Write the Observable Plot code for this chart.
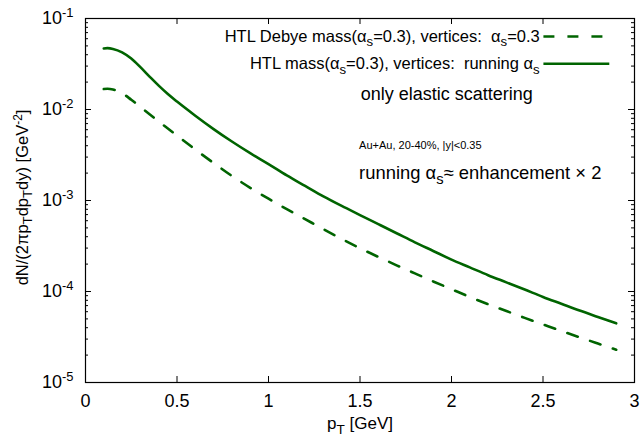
<!DOCTYPE html>
<html>
<head>
<meta charset="utf-8">
<script src="https://cdn.jsdelivr.net/npm/d3@7"></script>
<script src="https://cdn.jsdelivr.net/npm/@observablehq/plot@0.6"></script>
<style>
  html, body { margin: 0; padding: 0; background: #fff; }
  svg text { white-space: pre; }
</style>
</head>
<body>
<div id="chart"></div>
<script>
// ---- data ----
const pT = [0.10, 0.12, 0.15, 0.20, 0.25, 0.30, 0.35, 0.40, 0.45, 0.50,
            0.60, 0.70, 0.80, 0.90, 1.00, 1.10, 1.20, 1.30, 1.40, 1.50,
            1.60, 1.70, 1.80, 1.90, 2.00, 2.10, 2.20, 2.30, 2.40, 2.50,
            2.60, 2.70, 2.80, 2.90];
// HTL Debye mass(alpha_s=0.3), vertices alpha_s=0.3  (dashed)
const dashedHTL = [0.01679, 0.01690, 0.01660, 0.01514, 0.01279, 0.01067, 0.008872, 0.007396, 0.006180, 0.005176,
                   0.003631, 0.002582, 0.001862, 0.001380, 0.001047, 0.000804, 0.000624, 0.000484, 0.000378, 0.000299,
                   0.000240, 0.000194, 0.000158, 0.000129, 0.000106, 8.71e-5, 7.24e-5, 6.10e-5, 5.13e-5, 4.35e-5,
                   3.69e-5, 3.14e-5, 2.68e-5, 2.29e-5];
// HTL mass(alpha_s=0.3), vertices running alpha_s  (solid)
const solidRunning = [0.04677, 0.04721, 0.04634, 0.04246, 0.03631, 0.02917, 0.02301, 0.01828, 0.01479, 0.01222,
                      0.008551, 0.006095, 0.004446, 0.003311, 0.002512, 0.001884, 0.001445, 0.001109, 0.000871, 0.000692,
                      0.000550, 0.000437, 0.000347, 0.000279, 0.000224, 0.000184, 0.000151, 0.000126, 0.000105, 8.71e-5,
                      7.33e-5, 6.17e-5, 5.25e-5, 4.47e-5];
const seriesNames = ["HTL Debye mass(α_{s}=0.3), vertices:  α_{s}=0.3",
                     "HTL mass(α_{s}=0.3), vertices:  running α_{s}"];
const xTicks = [0, 0.5, 1, 1.5, 2, 2.5, 3];
const yDecades = [1e-5, 1e-4, 1e-3, 1e-2, 1e-1];
const xTitle = "p_{T} [GeV]";
const yTitle = "dN/(2πp_{T}dp_{T}dy) [GeV^{-2}]";
const noteTexts = ["only elastic scattering", "Au+Au, 20-40%, |y|<0.35", "running α_{s}≈ enhancement × 2"];

// ---- layout ----
const W = 642, H = 436;
const mL = 85, mR = 8, mT = 18, mB = 54;
const fw = W - mL - mR, fh = H - mT - mB;
const green = "#006400";
const dash = "11,13";
const font = "'Liberation Sans', Arial, Helvetica, sans-serif";

const yMinor = [];
for (const d of yDecades.slice(0, -1)) for (let k = 2; k <= 9; k++) yMinor.push(d * k);

const rows = pT.map((x, i) => ({x, dashed: dashedHTL[i], solid: solidRunning[i]}));

// legend & annotation placement (data coordinates)
const legendRows = [
  {text: seriesNames[0], x: 2.482, y: 0.0634, dashed: true},
  {text: seriesNames[1], x: 2.482, y: 0.0318, dashed: false}
];
const legX1 = 2.505, legX2 = 2.865;
const notes = [
  {text: noteTexts[0], x: 2.444, y: 0.01459, anchor: "end", size: 18},
  {text: noteTexts[1], x: 1.495, y: 0.00401, anchor: "start", size: 11},
  {text: noteTexts[2], x: 1.495, y: 0.00200, anchor: "start", size: 18.4}
];

const plot = Plot.plot({
  width: W, height: H,
  marginLeft: mL, marginRight: mR, marginTop: mT, marginBottom: mB,
  style: {fontFamily: font, fontSize: "16px", color: "#000", background: "#fff", overflow: "visible"},
  x: {domain: [0, 3]},
  y: {type: "log", domain: [1e-5, 1e-1]},
  marks: [
    Plot.frame({stroke: "#000", strokeWidth: 1.2}),
    Plot.tickX(xTicks, {x: d => d, insetTop: fh - 6, stroke: "#000"}),
    Plot.tickX(xTicks, {x: d => d, insetBottom: fh - 6, stroke: "#000"}),
    Plot.tickY(yDecades, {y: d => d, insetRight: fw - 6, stroke: "#000"}),
    Plot.tickY(yDecades, {y: d => d, insetLeft: fw - 6, stroke: "#000"}),
    Plot.tickY(yMinor, {y: d => d, insetRight: fw - 3, stroke: "#000"}),
    Plot.tickY(yMinor, {y: d => d, insetLeft: fw - 3, stroke: "#000"}),
    Plot.axisX({ticks: xTicks, tickSize: 0, tickPadding: 12, label: null, fontSize: 18, fill: "#000",
                tickFormat: d => String(d)}),
    Plot.axisY({ticks: yDecades, tickSize: 0, tickPadding: 12, label: null, fontSize: 18, fill: "#000",
                tickFormat: d => `10^{${Math.round(Math.log10(d))}}`}),
    Plot.line(rows, {x: "x", y: "dashed", stroke: green, strokeWidth: 2.6, strokeDasharray: dash, curve: "monotone-x"}),
    Plot.line(rows, {x: "x", y: "solid", stroke: green, strokeWidth: 2.6, curve: "monotone-x"}),
    Plot.text(legendRows, {x: "x", y: "y", text: "text", textAnchor: "end", fontSize: 16.5, fill: "#000"}),
    Plot.ruleY(legendRows.filter(d => d.dashed), {y: "y", x1: legX1, x2: legX2, stroke: green, strokeWidth: 2.6, strokeDasharray: dash}),
    Plot.ruleY(legendRows.filter(d => !d.dashed), {y: "y", x1: legX1, x2: legX2, stroke: green, strokeWidth: 2.6}),
    ...notes.map(n => Plot.text([n], {x: "x", y: "y", text: "text", textAnchor: n.anchor, fontSize: n.size, fill: "#000"})),
    Plot.text([yTitle], {text: d => d, frameAnchor: "left", textAnchor: "middle", lineAnchor: "middle",
                         rotate: -90, dx: -63, dy: -3, fontSize: 16.5, fill: "#000"}),
    Plot.text([xTitle], {text: d => d, frameAnchor: "bottom", textAnchor: "middle", lineAnchor: "middle",
                         dy: 41, fontSize: 17, fill: "#000"})
  ]
});

document.getElementById("chart").appendChild(plot);

// turn _{..} and ^{..} markup into sub/superscript tspans
function richText(root) {
  root.querySelectorAll("text").forEach(t => {
    const s = t.textContent;
    if (!/[_^]\{/.test(s)) return;
    const fs = parseFloat(getComputedStyle(t).fontSize) || 15;
    const parts = [];
    const re = /([_^])\{([^}]*)\}/g;
    let last = 0, m;
    while ((m = re.exec(s))) {
      if (m.index > last) parts.push({t: s.slice(last, m.index), k: 0});
      parts.push({t: m[2], k: m[1] === "_" ? 1 : -1});
      last = re.lastIndex;
    }
    if (last < s.length) parts.push({t: s.slice(last), k: 0});
    while (t.firstChild) t.removeChild(t.firstChild);
    let cur = 0;
    for (const p of parts) {
      const ts = document.createElementNS("http://www.w3.org/2000/svg", "tspan");
      const target = p.k === 1 ? 0.28 * fs : p.k === -1 ? -0.38 * fs : 0;
      if (target !== cur) ts.setAttribute("dy", (target - cur).toFixed(2));
      cur = target;
      if (p.k) ts.setAttribute("font-size", ((p.k === -1 ? 0.72 : 0.8) * fs).toFixed(2));
      ts.textContent = p.t;
      t.appendChild(ts);
    }
  });
}
richText(plot);
</script>
</body>
</html>
